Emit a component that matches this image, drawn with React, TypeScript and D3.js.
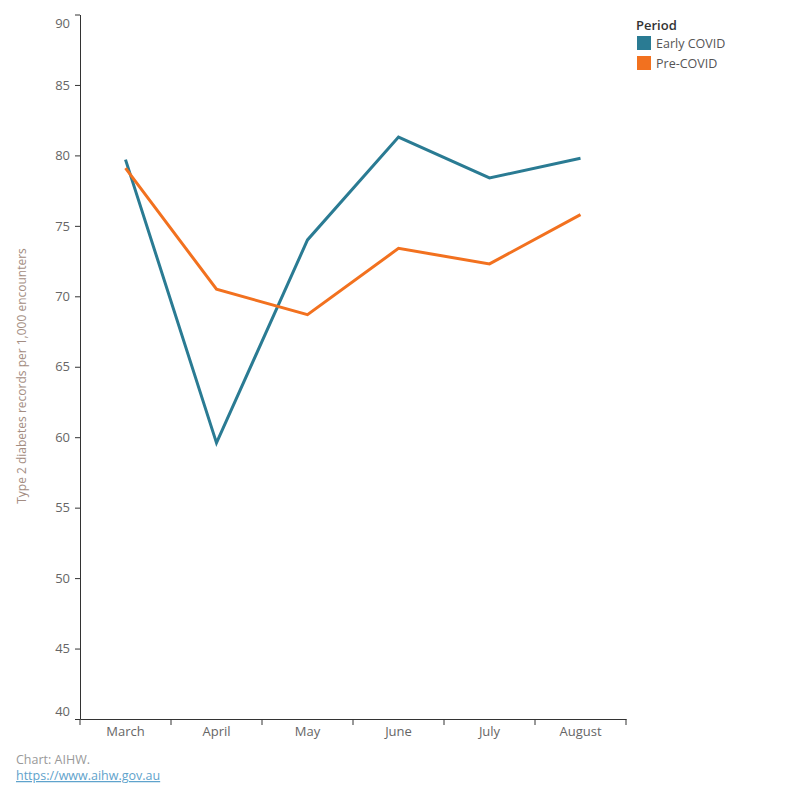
import * as d3 from 'd3';
import React, {useEffect} from 'react';

const months = ['March', 'April', 'May', 'June', 'July', 'August'];
const earlyCovid = [79.7, 59.6, 74.0, 81.3, 78.4, 79.8];
const preCovid = [79.1, 70.5, 68.7, 73.4, 72.3, 75.8];
const yTicks = [40, 45, 50, 55, 60, 65, 70, 75, 80, 85, 90];
const periods = ['Early COVID', 'Pre-COVID'];
const colors = ['#2a7b93', '#f2711f'];

export default function App() {
  const ref = React.useRef<SVGSVGElement>(null);

  useEffect(() => {
    draw();
  }, []);

  function draw() {
    const svg = d3.select(ref.current);
    svg.selectAll('*').remove();
    const font = '"Open Sans", sans-serif';

    const left = 80, right = 626, top = 14.5, bottom = 719;

    const x = d3.scaleBand().domain(months).range([left, right]);
    const y = d3.scaleLinear().domain([40, 90]).range([bottom, top]);

    // y axis
    const yAxis = svg.append('g')
      .attr('transform', `translate(${left},0)`)
      .call(d3.axisLeft(y).tickValues(yTicks).tickSize(5).tickSizeOuter(0));
    yAxis.select('.domain').attr('stroke', '#333');
    yAxis.selectAll('.tick line').attr('stroke', '#333');
    yAxis.selectAll('.tick text')
      .attr('font-family', font)
      .attr('font-size', 13)
      .attr('fill', '#666')
      .attr('x', -10)
      .attr('dy', (d: any) => d === 90 ? '1em' : d === 40 ? '-0.3em' : '0.32em');

    // x axis
    const xAxis = svg.append('g')
      .attr('transform', `translate(0,${bottom})`)
      .call(d3.axisBottom(x).tickSize(0).tickSizeOuter(0));
    xAxis.select('.domain').attr('stroke', '#333');
    xAxis.selectAll('.tick text')
      .attr('font-family', font)
      .attr('font-size', 13)
      .attr('fill', '#666')
      .attr('y', 8);
    // boundary ticks between months
    const bounds = months.map(m => x(m) as number).concat([right]);
    svg.append('g').selectAll('line')
      .data(bounds)
      .enter()
      .append('line')
      .attr('x1', d => d).attr('x2', d => d)
      .attr('y1', bottom).attr('y2', bottom + 6)
      .attr('stroke', '#333');

    // y title
    svg.append('text')
      .attr('transform', `translate(26,376) rotate(-90)`)
      .attr('text-anchor', 'middle')
      .attr('font-family', font)
      .attr('font-size', 12)
      .attr('fill', '#a38d82')
      .text('Type 2 diabetes records per 1,000 encounters');

    // lines
    const line = d3.line<number>()
      .x((d, i) => (x(months[i]) as number) + x.bandwidth() / 2)
      .y(d => y(d));
    [earlyCovid, preCovid].forEach((s, i) => {
      svg.append('path')
        .datum(s)
        .attr('d', line)
        .attr('fill', 'none')
        .attr('stroke', colors[i])
        .attr('stroke-width', 3);
    });

    // legend
    const lg = svg.append('g');
    lg.append('text')
      .attr('x', 636).attr('y', 30)
      .attr('font-family', font)
      .attr('font-size', 13)
      .attr('font-weight', 600)
      .attr('fill', '#333')
      .text('Period');
    periods.forEach((p, i) => {
      lg.append('rect')
        .attr('x', 637).attr('y', 36 + i * 20)
        .attr('width', 14).attr('height', 14)
        .attr('fill', colors[i]);
      lg.append('text')
        .attr('x', 656).attr('y', 48 + i * 20)
        .attr('font-family', font)
        .attr('font-size', 12.5)
        .attr('fill', '#555')
        .text(p);
    });

    // footer
    svg.append('text')
      .attr('x', 16).attr('y', 764)
      .attr('font-family', font)
      .attr('font-size', 12.5)
      .attr('fill', '#999')
      .text('Chart: AIHW.');
    svg.append('text')
      .attr('x', 16).attr('y', 780)
      .attr('font-family', font)
      .attr('font-size', 12.5)
      .attr('fill', '#5fa3cc')
      .attr('text-decoration', 'underline')
      .text('https://www.aihw.gov.au');
  }

  return (
    <div style={{position: 'absolute', left: 0, top: 0}}>
      <svg ref={ref} width={800} height={800}></svg>
    </div>
  );
}
